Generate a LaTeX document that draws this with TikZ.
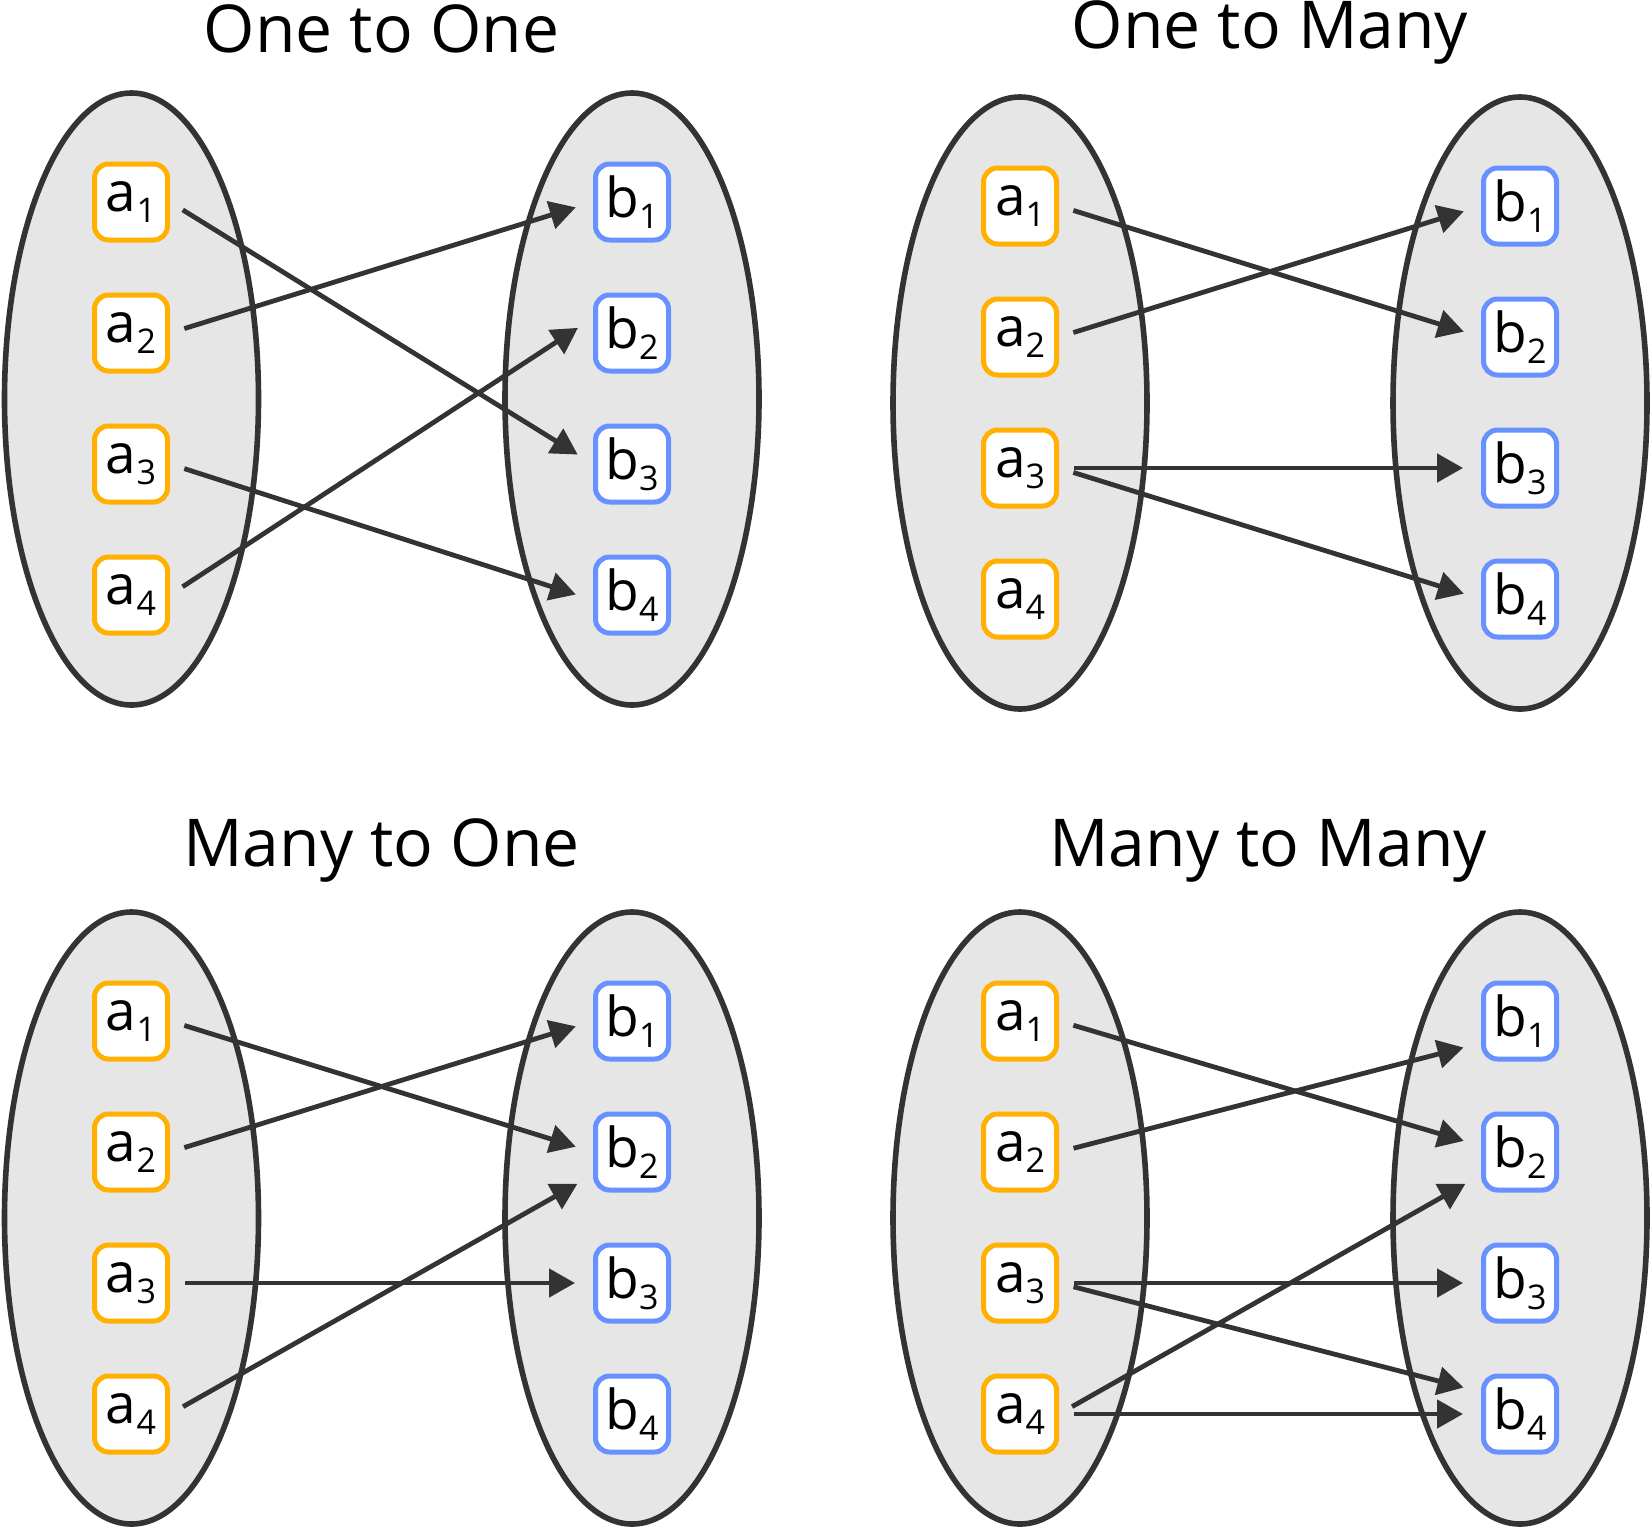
\documentclass[tikz,border=0pt]{standalone}
\usepackage{fontspec}
\setmainfont{Open Sans}
\usetikzlibrary{arrows.meta}

\definecolor{setfill}{RGB}{230,230,230}
\definecolor{darkline}{RGB}{51,51,51}
\definecolor{aorange}{RGB}{255,176,0}
\definecolor{bblue}{RGB}{102,145,255}

\newcommand{\subix}[1]{\raisebox{-5.5pt}{\fontsize{17}{17}\selectfont #1}}

\tikzset{
	setshape/.style={draw=darkline, fill=setfill, line width=2.8pt},
	elem/.style={rectangle, rounded corners=7pt, fill=white, line width=2.5pt,
		minimum width=36.5pt, minimum height=38pt, inner sep=0pt,
		font=\fontsize{27.5}{30}\selectfont},
	abox/.style={elem, draw=aorange},
	bbox/.style={elem, draw=bblue},
	maparrow/.style={draw=darkline, line width=2.4pt,
		-{Triangle[length=13pt,width=14pt]},
		shorten <=7.5pt, shorten >=9pt},
	title/.style={font=\fontsize{33}{36}\selectfont, anchor=base}}
\tikzset{every picture/.style={line width=0.75pt}}

\begin{document}
\begin{tikzpicture}[x=0.5pt,y=0.5pt,yscale=-1,xscale=1]
	\useasboundingbox (0,0) rectangle (1652,1527);

	%Shape: Ellipse (one to one)
	\draw [setshape] (131.5,399) ellipse (127 and 306);
	\draw [setshape] (632,399) ellipse (127 and 306);
	%Shape: Ellipse (one to many)
	\draw [setshape] (1020,403) ellipse (127 and 306);
	\draw [setshape] (1520,403) ellipse (127 and 306);
	%Shape: Ellipse (many to one)
	\draw [setshape] (131.5,1218) ellipse (127 and 306);
	\draw [setshape] (632,1218) ellipse (127 and 306);
	%Shape: Ellipse (many to many)
	\draw [setshape] (1020,1218) ellipse (127 and 306);
	\draw [setshape] (1520,1218) ellipse (127 and 306);

	% Text Node
	\node [title] (oo-title) at (381.5,52) {One to One};
	% Text Node
	\node [title] (om-title) at (1270,48) {One to Many};
	% Text Node
	\node [title] (mo-title) at (381.5,866) {Many to One};
	% Text Node
	\node [title] (mm-title) at (1268,866) {Many to Many};

	%Elements: one to one
	\node [abox] (oo-a1) at (131,202) {a\subix{1}};
	\node [abox] (oo-a2) at (131,333) {a\subix{2}};
	\node [abox] (oo-a3) at (131,464) {a\subix{3}};
	\node [abox] (oo-a4) at (131,595) {a\subix{4}};
	\node [bbox] (oo-b1) at (632,202) {b\subix{1}};
	\node [bbox] (oo-b2) at (632,333) {b\subix{2}};
	\node [bbox] (oo-b3) at (632,464) {b\subix{3}};
	\node [bbox] (oo-b4) at (632,595) {b\subix{4}};

	%Elements: one to many
	\node [abox] (om-a1) at (1020,206) {a\subix{1}};
	\node [abox] (om-a2) at (1020,337) {a\subix{2}};
	\node [abox] (om-a3) at (1020,468) {a\subix{3}};
	\node [abox] (om-a4) at (1020,599) {a\subix{4}};
	\node [bbox] (om-b1) at (1520,206) {b\subix{1}};
	\node [bbox] (om-b2) at (1520,337) {b\subix{2}};
	\node [bbox] (om-b3) at (1520,468) {b\subix{3}};
	\node [bbox] (om-b4) at (1520,599) {b\subix{4}};

	%Elements: many to one
	\node [abox] (mo-a1) at (131,1021) {a\subix{1}};
	\node [abox] (mo-a2) at (131,1152) {a\subix{2}};
	\node [abox] (mo-a3) at (131,1283) {a\subix{3}};
	\node [abox] (mo-a4) at (131,1414) {a\subix{4}};
	\node [bbox] (mo-b1) at (632,1021) {b\subix{1}};
	\node [bbox] (mo-b2) at (632,1152) {b\subix{2}};
	\node [bbox] (mo-b3) at (632,1283) {b\subix{3}};
	\node [bbox] (mo-b4) at (632,1414) {b\subix{4}};

	%Elements: many to many
	\node [abox] (mm-a1) at (1020,1021) {a\subix{1}};
	\node [abox] (mm-a2) at (1020,1152) {a\subix{2}};
	\node [abox] (mm-a3) at (1020,1283) {a\subix{3}};
	\node [abox] (mm-a4) at (1020,1414) {a\subix{4}};
	\node [bbox] (mm-b1) at (1520,1021) {b\subix{1}};
	\node [bbox] (mm-b2) at (1520,1152) {b\subix{2}};
	\node [bbox] (mm-b3) at (1520,1283) {b\subix{3}};
	\node [bbox] (mm-b4) at (1520,1414) {b\subix{4}};

	%Straight Lines: one to one (yshift is flipped by yscale=-1)
	\draw [maparrow] (oo-a1.east) -- (oo-b3.west);
	\draw [maparrow] (oo-a2.east) -- (oo-b1.west);
	\draw [maparrow] (oo-a3.east) -- ([yshift=2.5pt]oo-b4.west);
	\draw [maparrow] (oo-a4.east) -- ([yshift=-7.5pt]oo-b2.west);

	%Straight Lines: one to many
	\draw [maparrow] (om-a1.east) -- (om-b2.west);
	\draw [maparrow] (om-a2.east) -- (om-b1.west);
	\draw [maparrow] (om-a3.east) -- (om-b3.west);
	\draw [maparrow] (om-a3.east) -- (om-b4.west);

	%Straight Lines: many to one
	\draw [maparrow] (mo-a1.east) -- (mo-b2.west);
	\draw [maparrow] (mo-a2.east) -- (mo-b1.west);
	\draw [maparrow] (mo-a3.east) -- (mo-b3.west);
	\draw [maparrow] (mo-a4.east) -- ([yshift=11.5pt]mo-b2.west);

	%Straight Lines: many to many
	\draw [maparrow] (mm-a1.east) -- ([yshift=-3pt]mm-b2.west);
	\draw [maparrow] (mm-a2.east) -- ([yshift=11pt]mm-b1.west);
	\draw [maparrow] (mm-a3.east) -- (mm-b3.west);
	\draw [maparrow] (mm-a3.east) -- ([yshift=-11pt]mm-b4.west);
	\draw [maparrow] (mm-a4.east) -- ([yshift=11.5pt]mm-b2.west);
	\draw [maparrow] (mm-a4.east) -- (mm-b4.west);

\end{tikzpicture}
\end{document}
